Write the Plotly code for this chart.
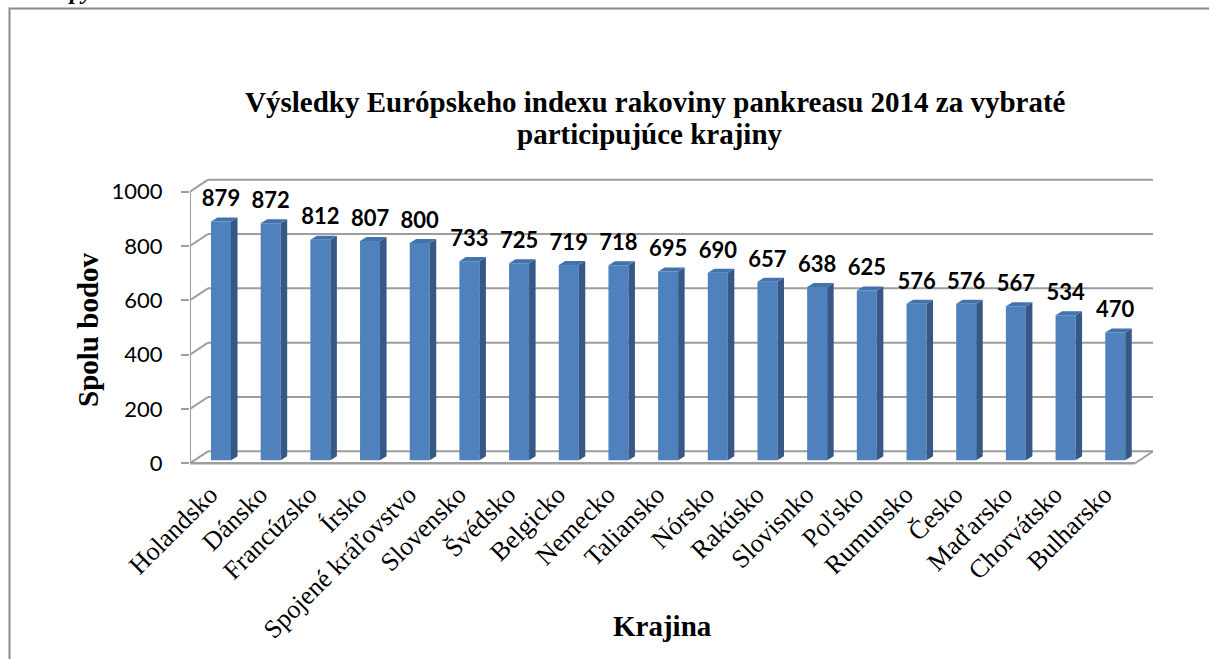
import plotly.graph_objects as go

countries = ["Holandsko", "Dánsko", "Francúzsko", "Írsko", "Spojené kráľovstvo",
             "Slovensko", "Švédsko", "Belgicko", "Nemecko", "Taliansko", "Nórsko",
             "Rakúsko", "Slovisnko", "Poľsko", "Rumunsko", "Česko", "Maďarsko",
             "Chorvátsko", "Bulharsko"]
points = [879, 872, 812, 807, 800, 733, 725, 719, 718, 695, 690, 657, 638, 625,
          576, 576, 567, 534, 470]
y_ticks = [0, 200, 400, 600, 800, 1000]

title_line1 = "Výsledky Európskeho indexu rakoviny pankreasu 2014 za vybraté"
title_line2 = "participujúce krajiny"
y_title = "Spolu bodov"
x_title = "Krajina"

# ---- geometry / style ----
W, H = 1209, 659
K = 0.271            # px per value unit
Y0PX = 463.0         # px of value 0 (front)
YMIN, YMAX = -10, 1050
L = 190
R = 56
T = Y0PX - YMAX * K
B = H - (Y0PX - YMIN * K)
XMIN, XMAX = -0.624, 18.76
FRONT_LEFT = XMIN
FRONT_RIGHT = 18.40
DXB, DYB = 0.362, 44       # depth offset of back wall
BASE = 11                  # bar front-plane lift
BW = 0.4027                # bar front width
SDX, SDY = 0.131, 14.8     # bar side / top depth
LABEL_GAP = 36

FRONT = "#4F81BD"
SIDE = "#355887"
TOP = "#4373AC"
GRID = "#9d9d9d"


def pxx(p):
    return (p - L) / (W - L - R)


def pxy(p):
    return (H - B - p) / (H - T - B)


n = len(points)
xs = list(range(n))

fig = go.Figure()

# front faces
fig.add_trace(go.Bar(x=xs, y=points, base=[BASE] * n, width=BW,
                     marker=dict(color=FRONT, line=dict(width=0)),
                     hoverinfo="skip", showlegend=False))

# side and top faces
sx, sy = [], []
tx, ty = [], []
for i, v in zip(xs, points):
    r = i + BW / 2
    l = i - BW / 2
    top = BASE + v
    sx += [r, r, r + SDX, r + SDX, r, None]
    sy += [BASE, top, top + SDY, BASE + SDY, BASE, None]
    tx += [l, r, r + SDX, l + SDX, l, None]
    ty += [top, top, top + SDY, top + SDY, top, None]
fig.add_trace(go.Scatter(x=sx, y=sy, fill="toself", mode="lines",
                         line=dict(width=0, color=SIDE), fillcolor=SIDE,
                         hoverinfo="skip", showlegend=False))
fig.add_trace(go.Scatter(x=tx, y=ty, fill="toself", mode="lines",
                         line=dict(width=0, color=TOP), fillcolor=TOP,
                         hoverinfo="skip", showlegend=False))

# data labels
fig.add_trace(go.Scatter(x=xs, y=[BASE + v + LABEL_GAP for v in points], mode="text",
                         text=[str(v) for v in points], textposition="top center",
                         textfont=dict(family="Lato", size=22, color="black",
                                       weight="bold"),
                         hoverinfo="skip", showlegend=False))

# 3D frame: gridlines on back wall, left diagonals, floor
shapes = []
for v in y_ticks:
    shapes.append(dict(type="line", xref="x", yref="y", layer="below",
                       x0=FRONT_LEFT, y0=v, x1=FRONT_LEFT + DXB, y1=v + DYB,
                       line=dict(color=GRID, width=2)))
    shapes.append(dict(type="line", xref="x", yref="y", layer="below",
                       x0=FRONT_LEFT + DXB, y0=v + DYB, x1=FRONT_RIGHT + DXB, y1=v + DYB,
                       line=dict(color=GRID, width=2)))
shapes.append(dict(type="line", xref="x", yref="y", layer="below",
                   x0=FRONT_LEFT, y0=0, x1=FRONT_LEFT, y1=max(y_ticks),
                   line=dict(color=GRID, width=2)))
shapes.append(dict(type="line", xref="x", yref="y", layer="below",
                   x0=FRONT_LEFT, y0=0, x1=FRONT_RIGHT, y1=0,
                   line=dict(color=GRID, width=2.5)))
shapes.append(dict(type="line", xref="x", yref="y", layer="below",
                   x0=FRONT_RIGHT, y0=0, x1=FRONT_RIGHT + DXB, y1=DYB,
                   line=dict(color=GRID, width=2)))
# outer frame of the chart
shapes.append(dict(type="rect", xref="paper", yref="paper",
                   x0=pxx(9.5), y0=pxy(680), x1=pxx(1240), y1=pxy(9.5),
                   line=dict(color="#8a8a8a", width=2), layer="below"))

annotations = [
    dict(text=title_line1, xref="paper", yref="paper", x=pxx(655), y=pxy(103),
         xanchor="center", yanchor="middle", showarrow=False,
         font=dict(family="Liberation Serif", size=29, color="black", weight="bold")),
    dict(text=title_line2, xref="paper", yref="paper", x=pxx(650), y=pxy(135),
         xanchor="center", yanchor="middle", showarrow=False,
         font=dict(family="Liberation Serif", size=29, color="black", weight="bold")),
    dict(text=y_title, xref="paper", yref="paper", x=pxx(88), y=pxy(330),
         xanchor="center", yanchor="middle", showarrow=False, textangle=-90,
         font=dict(family="Liberation Serif", size=29, color="black", weight="bold")),
    dict(text=x_title, xref="paper", yref="paper", x=pxx(662), y=pxy(625),
         xanchor="center", yanchor="middle", showarrow=False,
         font=dict(family="Liberation Serif", size=29, color="black", weight="bold")),
    dict(text="<b><i>py</i></b>", xref="paper", yref="paper", x=pxx(66), y=pxy(7),
         xanchor="left", yanchor="bottom", showarrow=False,
         font=dict(family="Liberation Serif", size=24, color="black")),
]

fig.update_layout(
    width=W, height=H,
    margin=dict(l=L, r=R, t=T, b=B, pad=0),
    paper_bgcolor="white", plot_bgcolor="rgba(0,0,0,0)",
    showlegend=False,
    shapes=shapes,
    annotations=annotations,
    xaxis=dict(range=[XMIN, XMAX], tickmode="array", tickvals=xs, ticktext=countries,
               tickangle=-45, showgrid=False, zeroline=False, showline=False,
               ticks="", ticklabelstandoff=7, ticklabelshift=-11,
               tickfont=dict(family="Liberation Serif", size=26, color="black")),
    yaxis=dict(range=[YMIN, YMAX], tickmode="array", tickvals=y_ticks,
               showgrid=False, zeroline=False, showline=False,
               ticks="outside", ticklen=8, tickcolor=GRID, tickwidth=2,
               ticklabelstandoff=14,
               tickfont=dict(family="Lato", size=22, color="black")),
)

fig.write_html("out.html", config={"displayModeBar": False},
               post_script="document.body.style.margin='0';")
